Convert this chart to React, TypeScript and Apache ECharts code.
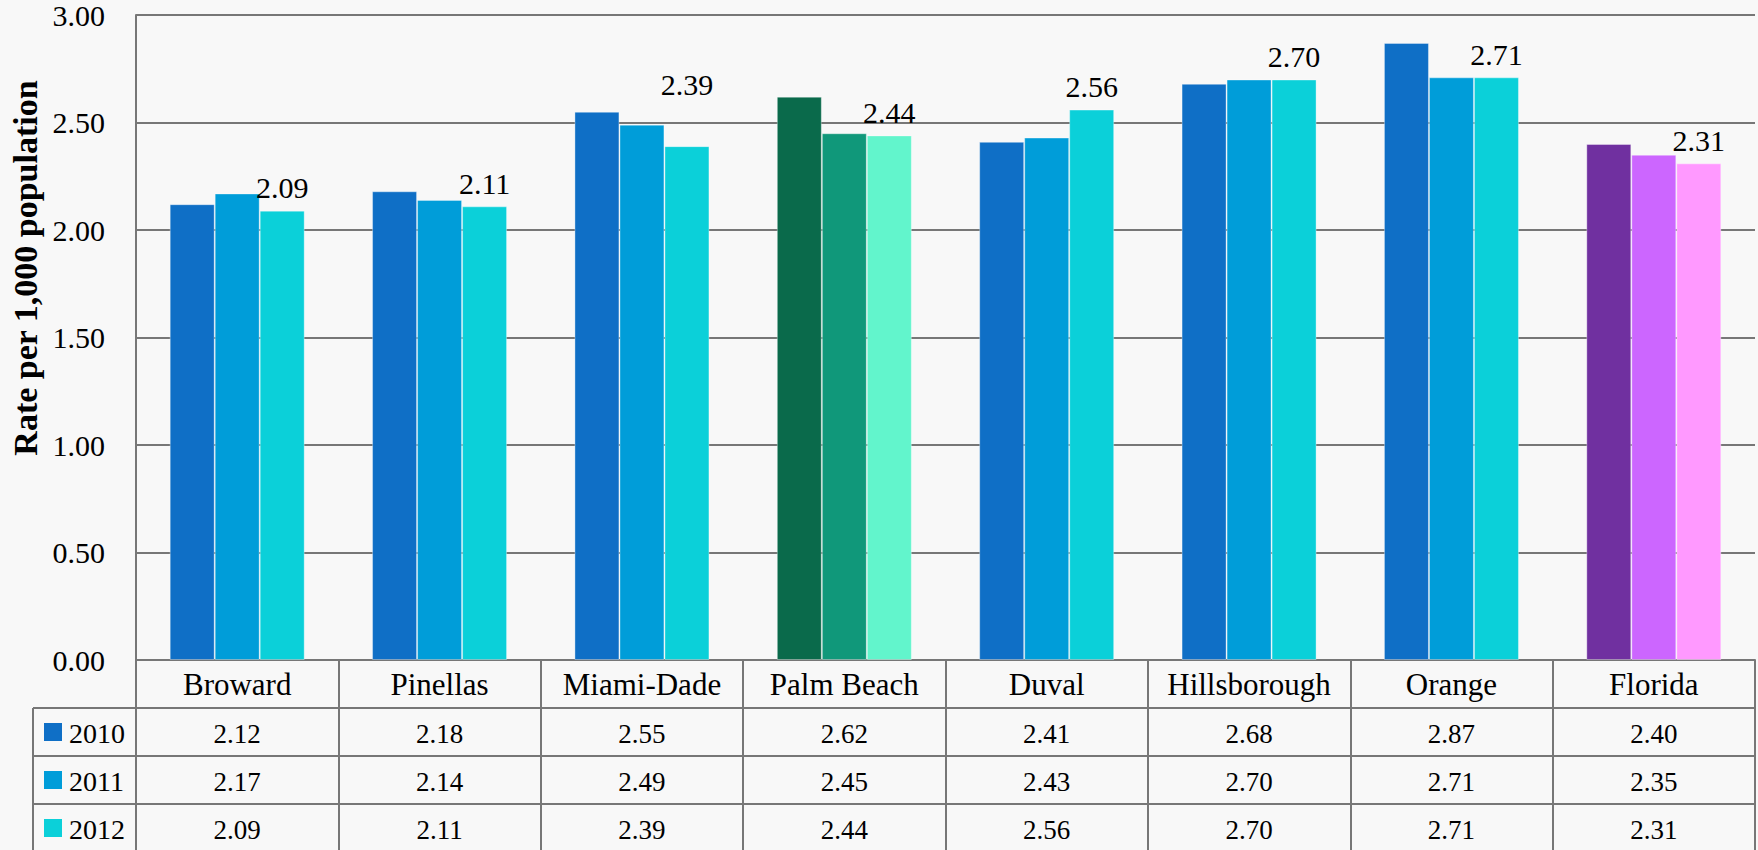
import { useEffect, useRef } from "react";
import * as echarts from "echarts";

const categories = ["Broward", "Pinellas", "Miami-Dade", "Palm Beach", "Duval", "Hillsborough", "Orange", "Florida"];
const years = ["2010", "2011", "2012"];
const v2010 = [2.12, 2.18, 2.55, 2.62, 2.41, 2.68, 2.87, 2.40];
const v2011 = [2.17, 2.14, 2.49, 2.45, 2.43, 2.70, 2.71, 2.35];
const v2012 = [2.09, 2.11, 2.39, 2.44, 2.56, 2.70, 2.71, 2.31];
const yMin = 0;
const yMax = 3;
const yInterval = 0.5;
const yTitle = "Rate per 1,000 population";

const baseColors = ["#0F6FC6", "#009DD9", "#0BD0D9"];
const palmColors = ["#0A6A4B", "#10987A", "#62F5CC"];
const floridaColors = ["#7030A0", "#CC66FF", "#FF99FF"];

const FONT = "'Liberation Serif', 'DejaVu Serif', serif";
const LINE = "#777777";

export default function App() {
  const ref = useRef<HTMLDivElement>(null);

  useEffect(() => {
    if (!ref.current) return;
    const chart = echarts.init(ref.current, undefined, { renderer: "svg" });
    const all = [v2010, v2011, v2012];

    const colorFor = (ci: number, si: number) => {
      if (categories[ci] === "Palm Beach") return palmColors[si];
      if (categories[ci] === "Florida") return floridaColors[si];
      return baseColors[si];
    };

    const series = all.map((vals, si) => ({
      name: years[si],
      type: "bar",
      xAxisIndex: 0,
      barWidth: 45,
      barGap: "0%",
      itemStyle: { color: baseColors[si], borderColor: "rgba(255,255,255,0.35)", borderWidth: 1 },
      data: vals.map((v, ci) => {
        const item: any = { value: v, itemStyle: { color: colorFor(ci, si) } };
        if (si === 2 && categories[ci] === "Miami-Dade") {
          item.label = { offset: [0, -39] };
        }
        return item;
      }),
      label:
        si === 2
          ? {
              show: true,
              position: "top",
              distance: 8,
              fontSize: 30,
              fontFamily: FONT,
              color: "#000",
              formatter: (p: any) => Number(p.value).toFixed(2),
            }
          : { show: false },
    }));

    const rowAxes = all.map((vals, si) => ({
      type: "category",
      gridIndex: 0,
      position: "bottom",
      offset: 48 * (si + 1),
      data: vals.map((v) => v.toFixed(2)),
      axisLine: { show: true, lineStyle: { color: LINE, width: 2 } },
      axisTick: { show: false },
      splitLine: { show: false },
      axisLabel: { interval: 0, fontSize: 27, fontFamily: FONT, color: "#000", margin: 12 },
    }));

    const gridLeft = 136;
    const leftColX = 33;
    const headerBottom = 708;
    const rowH = 48;
    const graphics: any[] = [
      {
        type: "text",
        x: 25,
        y: 268,
        rotation: Math.PI / 2,
        style: {
          text: yTitle,
          fontSize: 34,
          fontWeight: "bold",
          fontFamily: FONT,
          fill: "#000",
          align: "center",
          verticalAlign: "middle",
        },
      },
      {
        type: "line",
        shape: { x1: leftColX, y1: headerBottom, x2: leftColX, y2: 850 },
        style: { stroke: LINE, lineWidth: 2 },
      },
    ];
    for (let i = 0; i < 3; i++) {
      const rowTop = headerBottom + i * rowH;
      graphics.push({
        type: "line",
        shape: { x1: leftColX, y1: rowTop, x2: gridLeft, y2: rowTop },
        style: { stroke: LINE, lineWidth: 2 },
      });
      graphics.push({
        type: "rect",
        shape: { x: 44, y: rowTop + rowH / 2 - 9, width: 18, height: 18 },
        style: { fill: baseColors[i] },
      });
      graphics.push({
        type: "text",
        x: 69,
        y: rowTop + rowH / 2 + 1,
        style: {
          text: years[i],
          fontSize: 28,
          fontFamily: FONT,
          fill: "#000",
          align: "left",
          verticalAlign: "middle",
        },
      });
    }

    chart.setOption({
      animation: false,
      backgroundColor: "#f8f8f8",
      textStyle: { fontFamily: FONT },
      grid: { left: gridLeft, right: 3, top: 15, bottom: 190, containLabel: false },
      xAxis: [
        {
          type: "category",
          gridIndex: 0,
          position: "bottom",
          data: categories,
          axisLine: { show: true, lineStyle: { color: LINE, width: 2 } },
          axisTick: { show: true, length: 190, lineStyle: { color: LINE, width: 2 } },
          axisLabel: { interval: 0, fontSize: 31, fontFamily: FONT, color: "#000", margin: 9 },
          splitLine: { show: false },
        },
        ...rowAxes,
      ],
      yAxis: {
        type: "value",
        min: yMin,
        max: yMax,
        interval: yInterval,
        axisLine: { show: true, lineStyle: { color: LINE, width: 2 } },
        axisTick: { show: false },
        splitLine: { show: true, lineStyle: { color: LINE, width: 2 } },
        axisLabel: {
          fontSize: 30,
          fontFamily: FONT,
          color: "#000",
          margin: 31,
          formatter: (v: number) => v.toFixed(2),
        },
      },
      series,
      graphic: graphics,
    });

    return () => chart.dispose();
  }, []);

  return (
    <div
      ref={ref}
      style={{ position: "fixed", left: 0, top: 0, width: 1758, height: 850 }}
    />
  );
}
